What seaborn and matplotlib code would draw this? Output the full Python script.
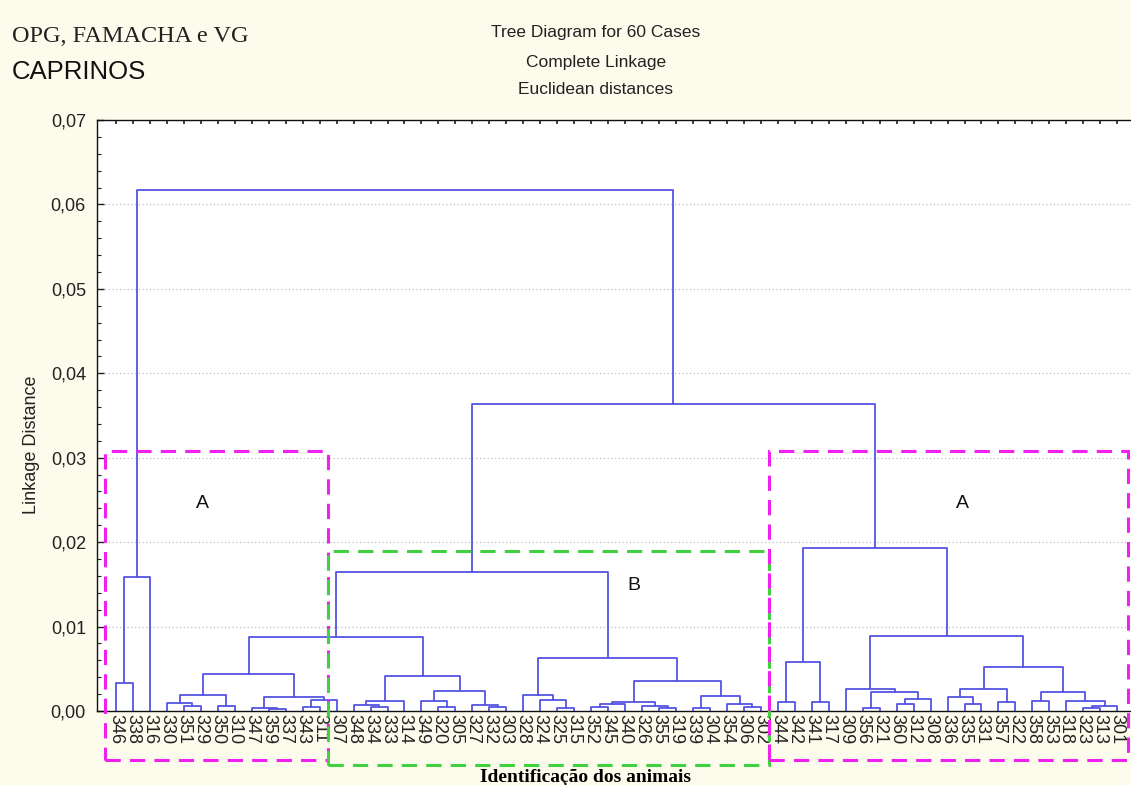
import matplotlib
matplotlib.use("Agg")
import numpy as np
import pandas as pd
import matplotlib.pyplot as plt
from matplotlib.patches import Rectangle
from matplotlib.ticker import MultipleLocator, FuncFormatter
import seaborn as sns

# Leaf order along the horizontal axis (animal identifiers)
leaf_labels = [
    "346", "338", "316", "330", "351", "329", "350", "310", "347", "359",
    "337", "343", "311", "307", "348", "334", "333", "314", "349", "320",
    "305", "327", "332", "303", "328", "324", "325", "315", "352", "345",
    "340", "326", "355", "319", "339", "304", "354", "306", "302", "344",
    "342", "341", "317", "309", "356", "321", "360", "312", "308", "336",
    "335", "331", "357", "322", "358", "353", "318", "323", "313", "301",
]

# Linkage table: children indices (leaf position 0..59, or 60 + merge number)
merge_left = [
    0, 60, 4, 3, 6, 63, 9, 8, 11, 68, 67, 65,
    15, 14, 73, 19, 18, 22, 21, 76, 74, 71,
    26, 25, 24, 28, 85, 32, 31, 86, 34, 37, 36, 90, 89, 84, 81,
    39, 41, 97, 44, 46, 101, 100, 43, 50, 49, 52, 106, 54, 57, 110, 56, 109,
    108, 104, 99, 96, 61,
]
merge_right = [
    1, 2, 5, 62, 7, 64, 10, 66, 12, 13, 69, 70,
    16, 72, 17, 20, 75, 23, 77, 78, 79, 80,
    27, 82, 83, 29, 30, 33, 87, 88, 35, 38, 91, 92, 93, 94, 95,
    40, 42, 98, 45, 47, 48, 102, 103, 51, 105, 53, 107, 55, 58, 59, 111, 112,
    113, 114, 115, 116, 117,
]
merge_height = [
    0.0033, 0.0159, 0.0006, 0.0009, 0.0006, 0.0019, 0.0002, 0.0003, 0.0005,
    0.0013, 0.0017, 0.0044,
    0.0005, 0.0007, 0.0012, 0.0005, 0.0012, 0.0005, 0.0007, 0.0024, 0.0041,
    0.0088,
    0.0004, 0.0013, 0.0019, 0.0005, 0.0008, 0.0003, 0.0006, 0.0011, 0.0004,
    0.0005, 0.0008, 0.0018, 0.0036, 0.0063, 0.0165,
    0.0011, 0.0011, 0.0058, 0.0003, 0.0008, 0.0014, 0.0023, 0.0026, 0.0008,
    0.0017, 0.0011, 0.0026, 0.0012, 0.0003, 0.0006, 0.0012, 0.0023, 0.0052,
    0.0089, 0.0193, 0.0364, 0.0617,
]

# Cluster groups (first leaf, last leaf, label, top of frame)
group_first = [0, 13, 39]
group_last = [12, 38, 59]
group_names = ["A", "B", "A"]
group_top = [0.0308, 0.0190, 0.0308]

# ---- build the dendrogram segments from the linkage table ----
n_leaves = len(leaf_labels)
node_x = {i: float(i) for i in range(n_leaves)}
node_h = {i: 0.0 for i in range(n_leaves)}
rows = []
for k, (l, r, h) in enumerate(zip(merge_left, merge_right, merge_height)):
    xl, xr = node_x[l], node_x[r]
    pts = [(xl, node_h[l]), (xl, h), (xr, h), (xr, node_h[r])]
    for order, (px, py) in enumerate(pts):
        rows.append({"seg": k, "order": order, "x": px, "y": py})
    node_x[n_leaves + k] = (xl + xr) / 2
    node_h[n_leaves + k] = h
segments = pd.DataFrame(rows)

sns.set_theme(style="ticks")
plt.rcParams["font.family"] = ["Liberation Sans", "DejaVu Sans"]

W, H = 1131, 785
fig = plt.figure(figsize=(W / 100, H / 100), dpi=100, facecolor="#FDFBEC")
ax = fig.add_axes([97 / W, 74 / H, 1037 / W, (711 - 120) / H])
ax.set_facecolor("white")

sns.lineplot(data=segments, x="x", y="y", units="seg", estimator=None,
             sort=False, color="#5454E2", linewidth=1.3, ax=ax, legend=False)

ax.set_xlim(-1.12, -1.12 + 1037 / 16.97)
ax.set_ylim(0, 0.07)
ax.set_xlabel("")
ax.set_ylabel("")

# y axis
ax.yaxis.set_major_locator(MultipleLocator(0.01))
ax.yaxis.set_minor_locator(MultipleLocator(0.002))
ax.yaxis.set_major_formatter(FuncFormatter(lambda v, p: f"{v:.2f}".replace(".", ",")))
ax.tick_params(axis="y", which="major", direction="in", length=5, width=1,
               labelsize=13, pad=8, colors="#222222")
ax.tick_params(axis="y", which="minor", direction="in", length=3, width=0.8,
               colors="#222222")
ax.yaxis.grid(True, which="major", linestyle=(0, (1, 2)), color="#BDBDBD",
              linewidth=0.9)
ax.xaxis.grid(False)

# x axis: leaf labels, read top to bottom
ax.set_xticks(range(n_leaves))
ax.set_xticklabels(leaf_labels, rotation=270, fontsize=13, color="#222222",
                   va="top", ha="center")
ax.tick_params(axis="x", which="major", top=True, direction="in", length=3,
               labeltop=False, bottom=False, pad=2)

for side in ("left", "top", "bottom"):
    ax.spines[side].set_color("#111111")
    ax.spines[side].set_linewidth(1.0)
ax.spines["right"].set_visible(False)

# cluster frames
frame_colors = {"A": "#F020F0", "B": "#40D040"}
frame_bottom = {"A": -0.0058, "B": -0.0064}
label_pos = [(5.1, 0.0246), (30.5, 0.0149), (49.9, 0.0246)]
for g, (f, l, name, top) in enumerate(zip(group_first, group_last, group_names, group_top)):
    x0 = f - 0.62 if f == 0 else f - 0.5
    x1 = l + 0.62 if l == n_leaves - 1 else l + 0.5
    y0 = frame_bottom[name]
    rect = Rectangle((x0, y0), x1 - x0, top - y0, fill=False,
                     edgecolor=frame_colors[name], linewidth=2.2,
                     linestyle=(0, (5, 3)), clip_on=False, zorder=5)
    ax.add_patch(rect)
    lx, ly = label_pos[g]
    ax.text(lx, ly, name, fontsize=14, ha="center", va="center", color="#111111")

# titles and axis captions
fig.text(596 / W, 1 - 33 / H, "Tree Diagram for 60 Cases", ha="center", va="center",
         fontsize=12.5, color="#222222")
fig.text(596 / W, 1 - 62 / H, "Complete Linkage", ha="center", va="center",
         fontsize=12.5, color="#222222")
fig.text(596 / W, 1 - 90 / H, "Euclidean distances", ha="center", va="center",
         fontsize=12.5, color="#222222")
fig.text(12 / W, 1 - 36 / H, "OPG, FAMACHA e VG", ha="left", va="center",
         fontsize=17.5, family=["Liberation Serif", "DejaVu Serif"], color="#222222")
fig.text(12 / W, 1 - 72 / H, "CAPRINOS", ha="left", va="center",
         fontsize=18.5, color="#111111")
fig.text(32 / W, 1 - 445 / H, "Linkage Distance", ha="center", va="center",
         rotation=90, fontsize=13, color="#222222")
fig.text(585 / W, 1 - 777 / H, "Identificação dos animais", ha="center", va="center",
         fontsize=14, fontweight="bold", family=["Liberation Serif", "DejaVu Serif"],
         color="#000000")

fig.savefig("out.png", dpi=100, facecolor=fig.get_facecolor())
